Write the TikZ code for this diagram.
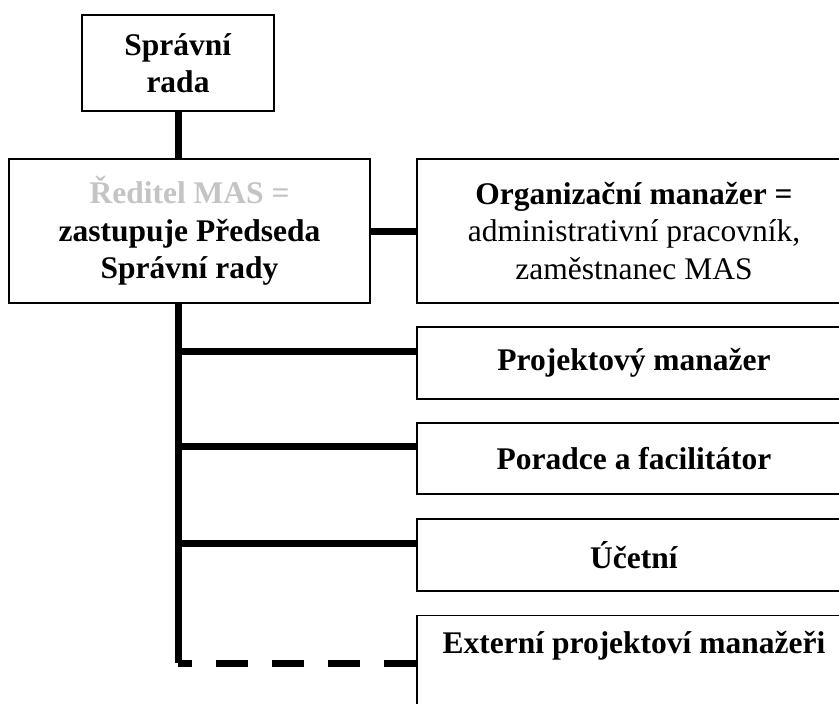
\documentclass[tikz,border=0pt]{standalone}
\usepackage{fontspec}
\setmainfont{Liberation Serif}
\usepackage{tikz}
\usepackage{xcolor}
\usetikzlibrary{positioning}

\definecolor{fadedgray}{RGB}{196,196,196}

\begin{document}
\begin{tikzpicture}[
        x=1pt, y=-1pt,
        block/.style={rectangle, draw, line width=1.2pt, fill=white, inner sep=0pt,
                      align=center, font=\fontsize{31.5}{37.5}\selectfont},
        link/.style={draw, line width=7pt},
        optlink/.style={link, dash pattern=on 32pt off 24pt}
    ]
    \useasboundingbox (0,0) rectangle (839,704);

    \node [block, minimum width=192pt, minimum height=96pt] (rada) at (178,63)
        {\textbf{Správní}\\\textbf{rada}};
    \node [block, minimum width=361pt, minimum height=144pt] (reditel) at (189.5,231)
        {\textbf{\color{fadedgray}Ředitel MAS =}\\\textbf{zastupuje Předseda}\\\textbf{Správní rady}};
    \node [block, minimum width=434pt, minimum height=144pt] (org) at (634,231)
        {\textbf{Organizační manažer =}\\administrativní pracovník,\\zaměstnanec MAS};
    \node [block, minimum width=434pt, minimum height=72pt] (proj) at (634,363)
        {\textbf{Projektový manažer}};
    \node [block, minimum width=434pt, minimum height=71pt] (porad) at (634,458.5)
        {\textbf{Poradce a facilitátor}};
    \node [block, minimum width=434pt, minimum height=72pt] (ucet) at (634,555)
        {\textbf{Účetní}};
    \node [block, minimum width=434pt, text height=38pt, text depth=72pt, anchor=north] (ext) at (634,615)
        {\textbf{Externí projektoví manažeři}};

    \coordinate (corner) at (178,663);

    \draw [link] (rada.south) -- (rada.south |- reditel.north);
    \draw [link] (reditel.east) -- (org.west);
    \draw [link] (rada.south |- reditel.south) -- (corner);
    \foreach \role in {proj,porad,ucet}
        \draw [link] ([yshift=12pt]\role.west) -- ([yshift=12pt]\role.west -| corner);
    \draw [optlink] (ext.west |- corner) -- (corner);
\end{tikzpicture}
\end{document}
